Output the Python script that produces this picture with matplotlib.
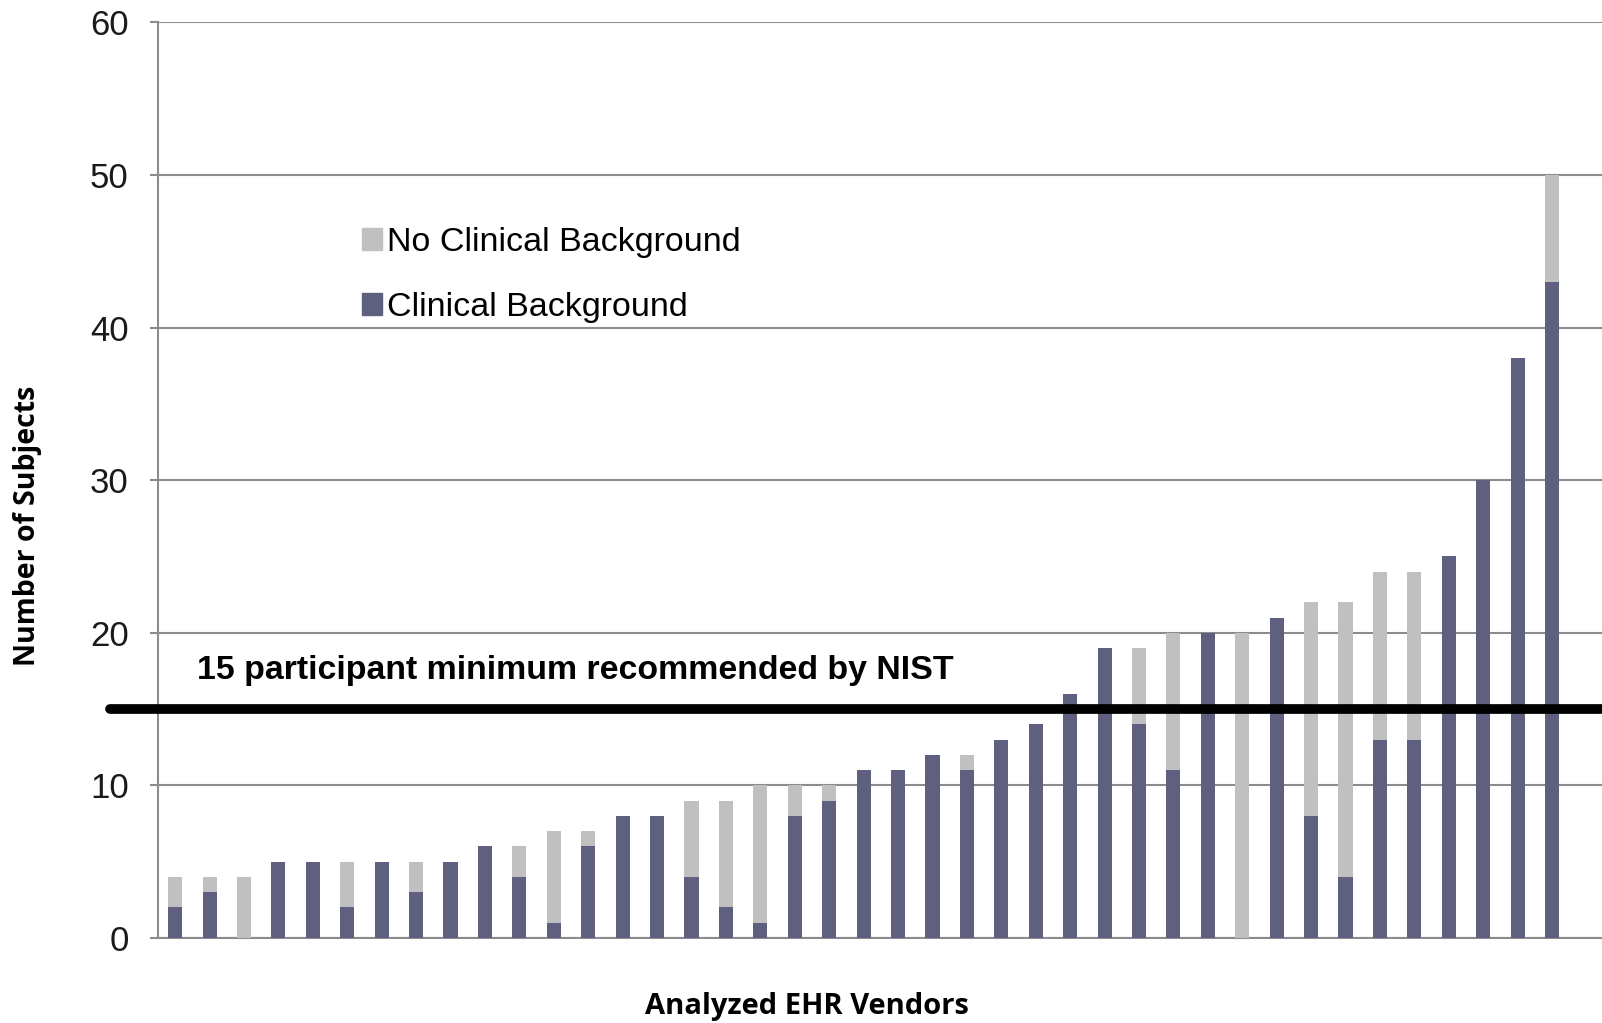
import matplotlib
matplotlib.use("Agg")
import matplotlib.pyplot as plt
import matplotlib.transforms as mtransforms
from matplotlib.patches import Patch
import numpy as np

# Data: 41 vendors, sorted by total subjects
clinical = [2, 3, 0, 5, 5, 2, 5, 3, 5, 6, 4, 1, 6, 8, 8, 4, 2, 1, 8, 9,
            11, 11, 12, 11, 13, 14, 16, 19, 14, 11, 20, 0, 21, 8, 4, 13, 13, 25, 30, 38, 43]
total = [4, 4, 4, 5, 5, 5, 5, 5, 5, 6, 6, 7, 7, 8, 8, 9, 9, 10, 10, 10,
         11, 11, 12, 12, 13, 14, 16, 19, 19, 20, 20, 20, 21, 22, 22, 24, 24, 25, 30, 38, 50]
non_clinical = [t - c for t, c in zip(total, clinical)]
yticks = [0, 10, 20, 30, 40, 50, 60]
threshold = 15

C_CLIN = "#5f5f7f"
C_NON = "#c0c0c0"
GRID = "#8c8c8c"

fig = plt.figure(figsize=(16.02, 10.23), dpi=100)
ax = fig.add_axes([0.0986, 0.0831, 0.9014, 0.895])

x = np.arange(len(total))
w = 0.41
ax.bar(x, clinical, width=w, color=C_CLIN, zorder=3, label="Clinical Background")
ax.bar(x, non_clinical, width=w, bottom=clinical, color=C_NON, zorder=3,
       label="No Clinical Background")

ax.set_xlim(-0.5, 41.45)
ax.set_ylim(0, 60)
ax.set_yticks(yticks)
ax.set_yticklabels([str(v) for v in yticks], fontsize=25, color="#1a1a1a",
                   family="Liberation Sans")
ax.tick_params(axis="y", length=6, width=1.5, color=GRID, pad=15, direction="out")
ax.tick_params(axis="x", bottom=False, labelbottom=False)
ax.grid(axis="y", color=GRID, linewidth=1.5, zorder=0)
for s in ["top", "right"]:
    ax.spines[s].set_visible(False)
for s in ["left", "bottom"]:
    ax.spines[s].set_color(GRID)
    ax.spines[s].set_linewidth(1.5)

# threshold line extending left of the axis
trans = mtransforms.blended_transform_factory(ax.transAxes, ax.transData)
ax.plot([-0.033, 1.0], [threshold, threshold], transform=trans, color="black",
        linewidth=7, solid_capstyle="round", clip_on=False, zorder=5)

fig.text(197 / 1602, 1 - 670 / 1023, "15 participant minimum recommended by NIST",
         fontsize=24.4, fontweight="bold", family="Liberation Sans", va="center",
         ha="left", color="black")

handles = [Patch(color=C_NON, label="No Clinical Background"),
           Patch(color=C_CLIN, label="Clinical Background")]
ax.legend(handles=handles, loc="upper left", bbox_to_anchor=(0.12, 0.81),
          frameon=False, handlelength=0.6, handleheight=0.6,
          handletextpad=0.15, labelspacing=1.0,
          prop={"family": "Liberation Sans", "size": 24.5})

fig.text(0.0172, 0.486, "Number of Subjects", rotation=90, fontsize=20.5,
         fontweight="bold", family="Open Sans", ha="center", va="center",
         color="black")
fig.text(0.504, 0.0166, "Analyzed EHR Vendors", fontsize=21, fontweight="bold",
         family="Open Sans", ha="center", va="center", color="black")

fig.savefig("out.png", dpi=100)
